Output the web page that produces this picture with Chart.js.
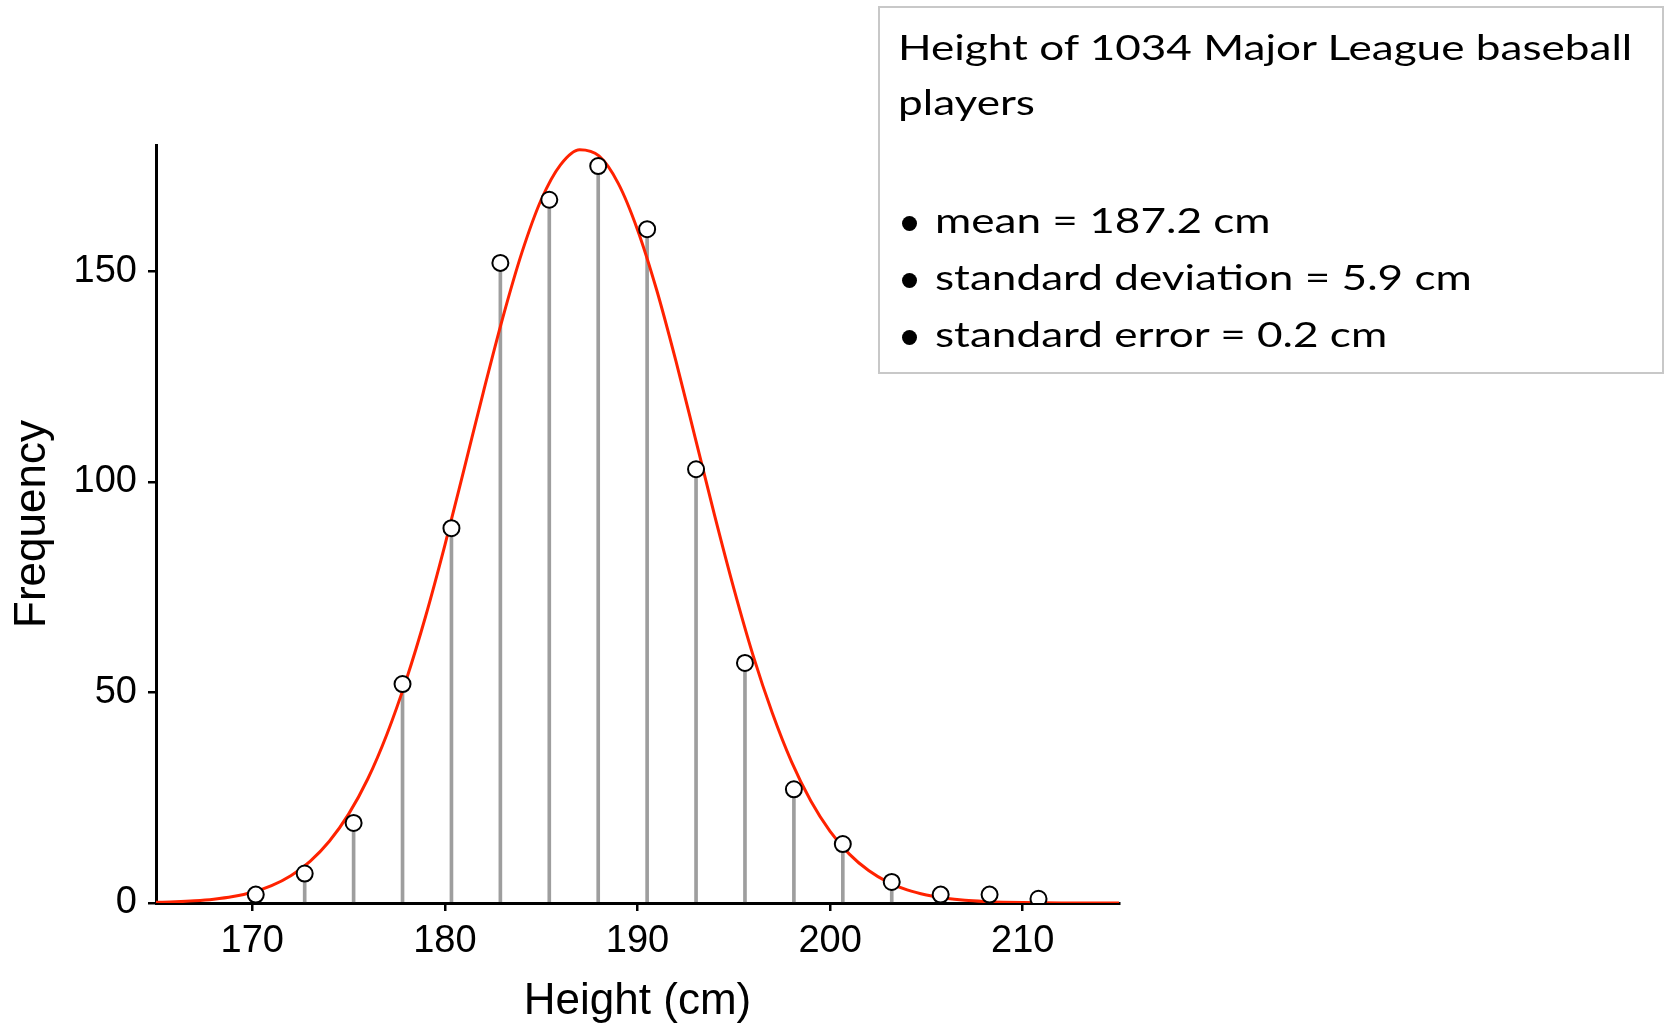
<!doctype html>
<html>
<head>
<meta charset="utf-8">
<title>Height of 1034 Major League baseball players</title>
<script src="https://cdn.jsdelivr.net/npm/chart.js@4"></script>
<style>
  html, body { margin: 0; padding: 0; background: #fff; }
  #wrap { position: relative; width: 1665px; height: 1026px; overflow: hidden; }
  #chart { position: absolute; left: 0; top: 0; }
  .note { position: absolute; left: 878px; top: 6px; width: 786px; height: 368px; border: 2px solid #c8c8c8; box-sizing: border-box; }
  .line { position: absolute; white-space: nowrap; font: 35px Lato, "Open Sans", sans-serif; line-height: 35px; color: #000; transform-origin: 0 0; }
  .dot { position: absolute; width: 15px; height: 15px; border-radius: 50%; background: #000; }
</style>
</head>
<body>
<div id="wrap">
  <canvas id="chart" width="1665" height="1026"></canvas>
  <div class="note"></div>
</div>
<script>
// bin centres: 67..83 inches, in cm
const binCentres = [170.18, 172.72, 175.26, 177.80, 180.34, 182.88, 185.42, 187.96, 190.50,
  193.04, 195.58, 198.12, 200.66, 203.20, 205.74, 208.28, 210.82];
const playerCounts = [2, 7, 19, 52, 89, 152, 167, 175, 160, 103, 57, 27, 14, 5, 2, 2, 1];

// fitted curve, every 1 cm
const curveHeights = [165, 166, 167, 168, 169, 170, 171, 172, 173, 174, 175, 176, 177, 178, 179, 180,
  181, 182, 183, 184, 185, 186, 187, 188, 189, 190, 191, 192, 193, 194, 195, 196, 197, 198, 199, 200,
  201, 202, 203, 204, 205, 206, 207, 208, 209, 210, 211, 212, 213, 214, 215];
const curveFreq = [0.15, 0.28, 0.51, 0.9, 1.54, 2.55, 4.12, 6.48, 9.89, 14.65, 21.1, 29.5, 40.2, 53.1, 68.1, 85.0,
  103.1, 121.4, 138.9, 154.5, 167.0, 175.3, 178.9, 177.4, 170.9, 159.9, 145.5, 128.6, 110.4, 92.1, 74.7, 58.8,
  45.1, 33.5, 24.2, 17.0, 11.6, 7.7, 4.96, 3.1, 1.89, 1.12, 0.64, 0.36, 0.19, 0.1, 0.05, 0.02, 0.01, 0, 0];

const xTickValues = [170, 180, 190, 200, 210];
const yTickValues = [0, 50, 100, 150];

const noteTitle = ['Height of 1034 Major League baseball', 'players'];
const noteBullets = ['mean = 187.2 cm', 'standard deviation = 5.9 cm', 'standard error = 0.2 cm'];

const stems = binCentres.map((x, i) => ({ x, y: playerCounts[i] }));
const fit = curveHeights.map((x, i) => ({ x, y: curveFreq[i] }));
const sans = "'Liberation Sans', Arial, Helvetica, sans-serif";

new Chart(document.getElementById('chart'), {
  type: 'scatter',
  data: {
    datasets: [
      { type: 'scatter', data: stems, pointRadius: 8, pointHoverRadius: 8,
        pointBackgroundColor: '#fff', pointBorderColor: '#000', pointBorderWidth: 2, order: 0 },
      { type: 'line', data: fit, borderColor: '#ff2200', borderWidth: 3, pointRadius: 0,
        cubicInterpolationMode: 'monotone', fill: false, order: 1 },
      { type: 'bar', data: stems, backgroundColor: '#9e9e9e', barThickness: 3, order: 2 }
    ]
  },
  options: {
    responsive: false,
    animation: false,
    layout: { padding: { top: 145, right: 546, bottom: 0, left: 0 } },
    plugins: { legend: { display: false }, tooltip: { enabled: false } },
    scales: {
      x: {
        type: 'linear', min: 165, max: 215, offset: false,
        afterBuildTicks: s => { s.ticks = xTickValues.map(v => ({ value: v })); },
        afterFit: s => { s.height = 123; },
        grid: { offset: false, drawOnChartArea: false, drawTicks: true, tickLength: 8, color: '#000', lineWidth: 2.5 },
        border: { display: true, color: '#000', width: 3 },
        ticks: { color: '#000', font: { family: sans, size: 38 }, padding: 8, maxRotation: 0 },
        title: { display: true, text: 'Height (cm)', color: '#000',
          font: { family: sans, size: 44, lineHeight: 1.1 }, padding: { top: 0, bottom: 0 } }
      },
      y: {
        type: 'linear', min: 0, max: 180,
        afterBuildTicks: s => { s.ticks = yTickValues.map(v => ({ value: v })); },
        afterFit: s => { s.width = 156; },
        grid: { offset: false, drawOnChartArea: false, drawTicks: true, tickLength: 8, color: '#000', lineWidth: 2.5 },
        border: { display: true, color: '#000', width: 3 },
        ticks: { color: '#000', font: { family: sans, size: 38 }, padding: 11 },
        title: { display: true, text: 'Frequency', color: '#000',
          font: { family: sans, size: 44, lineHeight: 1.1 }, padding: { top: 9, bottom: 0 } }
      }
    }
  }
});

// text box
const wrap = document.getElementById('wrap');
const lines = [];
function addLine(text, left, top) {
  const d = document.createElement('div');
  d.className = 'line';
  d.textContent = text;
  d.style.left = left + 'px';
  d.style.top = top + 'px';
  wrap.appendChild(d);
  lines.push(d);
  return d;
}
const first = addLine(noteTitle[0], 898, 29);
addLine(noteTitle[1], 898, 84);
noteBullets.forEach((t, i) => {
  const top = 202 + i * 57;
  addLine(t, 935, top);
  const dot = document.createElement('div');
  dot.className = 'dot';
  dot.style.left = '902px';
  dot.style.top = (top + 14) + 'px';
  wrap.appendChild(dot);
});
const k = 734 / first.getBoundingClientRect().width;
lines.forEach(d => { d.style.transform = 'scaleX(' + k.toFixed(3) + ')'; });
</script>
</body>
</html>
